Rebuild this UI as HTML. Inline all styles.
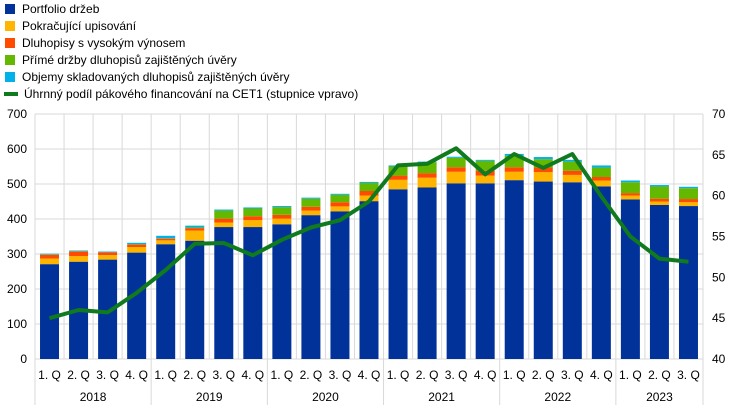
<!DOCTYPE html>
<html><head><meta charset="utf-8"><style>
body{margin:0;background:#fff;font-family:"Liberation Sans",sans-serif;}
svg text{font-family:"Liberation Sans",sans-serif;font-size:12px;fill:#000;}
</style></head><body>
<svg id="chart" width="744" height="409" xmlns="http://www.w3.org/2000/svg">
<g id="legend"></g>
<g id="grid"></g>
<g id="bars"></g>
<g id="line"></g>
<g id="axes"></g>
</svg>
<script>
const quarters=["1. Q","2. Q","3. Q","4. Q","1. Q","2. Q","3. Q","4. Q","1. Q","2. Q","3. Q","4. Q","1. Q","2. Q","3. Q","4. Q","1. Q","2. Q","3. Q","4. Q","1. Q","2. Q","3. Q"];
const years=["2018","2019","2020","2021","2022","2023"];
const portfolio=[271,278,284,304,328,338,377,377,385,411,422,451,485,490,502,502,511,507,505,493,456,440,437];
const ongoing=[16,16,13,16,11,29,13,20,16,13,14,16,27,28,33,22,24,27,21,17,11,10,11];
const highYield=[11,13,8,7,5,7,11,11,11,11,12,13,12,13,13,14,13,13,12,10,7,8,9];
const directClo=[1,1,0,1,1,2,23,22,22,23,21,23,26,31,27,28,33,24,26,27,31,35,31];
const warehouse=[2,2,2,4,7,5,3,3,3,3,3,3,3,2,3,3,5,6,5,6,5,4,4];
const leverage=[45.0,46.0,45.7,48.1,50.9,54.1,54.2,52.7,54.6,56.1,57.0,59.3,63.7,63.9,65.8,62.6,65.1,63.4,65.1,59.9,55.0,52.3,51.9];
const leftTicks=[0,100,200,300,400,500,600,700];
const rightTicks=[40,45,50,55,60,65,70];
const seriesNames=["Portfolio držeb","Pokračující upisování","Dluhopisy s vysokým výnosem","Přímé držby dluhopisů zajištěných úvěry","Objemy skladovaných dluhopisů zajištěných úvěry","Úhrnný podíl pákového financování na CET1 (stupnice vpravo)"];
const colors=["#003299","#ffb400","#ff4b00","#65b800","#00b1ea"];
const NS="http://www.w3.org/2000/svg";
const X0=35,X1=703,Y0=359,Y1=114;
const slot=(X1-X0)/quarters.length;
const xC=i=>X0+slot*(i+0.5);
const yL=v=>Y0-(v/700)*(Y0-Y1);
const yR=v=>Y0-((v-40)/30)*(Y0-Y1);
function mk(tag,attrs,parent){const e=document.createElementNS(NS,tag);for(const k in attrs)e.setAttribute(k,attrs[k]);parent.appendChild(e);return e;}
const grid=document.getElementById('grid'),bars=document.getElementById('bars'),axes=document.getElementById('axes'),legend=document.getElementById('legend'),lineG=document.getElementById('line');
leftTicks.forEach((t,i)=>{
 const l=mk('line',{x1:X0,x2:X1,y1:yL(t),y2:yL(t),stroke:'#d9d9d9','stroke-width':1},grid);
 
 
 const tx=mk('text',{x:27,y:yL(t)+4,'text-anchor':'end'},axes);tx.textContent=t;
 
 
});
rightTicks.forEach(t=>{
 const tx=mk('text',{x:712,y:yR(t)+4},axes);tx.textContent=t;
 
 
});
for(let i=0;i<=quarters.length;i++){
 const isYear=(i%4===0)||i===quarters.length;
 const l=mk('line',{x1:X0+slot*i,x2:X0+slot*i,y1:Y1,y2:isYear?405:Y0,stroke:'#d9d9d9','stroke-width':1},grid);
 
 
}
const series=[portfolio,ongoing,highYield,directClo,warehouse];
const segNames=['bar-portfolio','bar-ongoing','bar-high-yield','bar-direct-clo','bar-warehouse'];
quarters.forEach((q,i)=>{
 let acc=0;
 series.forEach((s,k)=>{
  const v=s[i];if(v<=0){return;}
  const r=mk('rect',{x:xC(i)-9.5,y:yL(acc+v),width:19,height:yL(acc)-yL(acc+v),fill:colors[k]},bars);
  
  
  acc+=v;
 });
 const tx=mk('text',{x:xC(i),y:379,'text-anchor':'middle'},axes);tx.textContent=q;
 
 
});
years.forEach((y,j)=>{
 const n=Math.min(4,quarters.length-j*4);
 const cx=X0+slot*(j*4+n/2);
 const tx=mk('text',{x:cx,y:401,'text-anchor':'middle'},axes);tx.textContent=y;
 
 
});
const pts=leverage.map((v,i)=>xC(i).toFixed(1)+','+yR(v).toFixed(1)).join(' ');
const pl=mk('polyline',{points:pts,fill:'none',stroke:'#0f7a1e','stroke-width':4,'stroke-linejoin':'round'},lineG);


seriesNames.forEach((n,i)=>{
 const y=9+i*17;
 if(i<5){const r=mk('rect',{x:5,y:y-5,width:10,height:10,fill:colors[i]},legend);
  
  }
 else{const l=mk('line',{x1:4,x2:18,y1:y,y2:y,stroke:'#0f7a1e','stroke-width':4},legend);
  
  }
 const tx=mk('text',{x:i<5?22:24,y:y+4},legend);tx.textContent=n;
 
 
});
</script>
</body></html>
